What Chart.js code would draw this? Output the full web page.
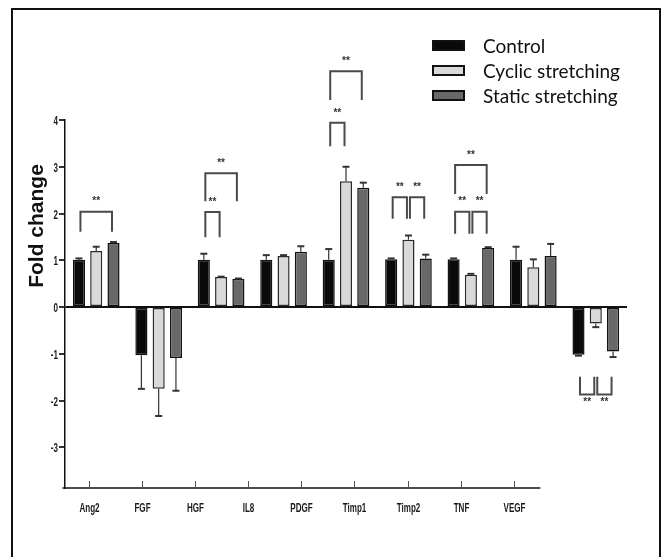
<!DOCTYPE html>
<html>
<head>
<meta charset="utf-8">
<script src="https://cdn.jsdelivr.net/npm/chart.js@4.4.1/dist/chart.umd.min.js"></script>
<style>
  html, body { margin: 0; padding: 0; background: #fff; overflow: hidden; }
  #wrap { position: relative; width: 666px; height: 557px; }
  #chart { position: absolute; left: 0; top: 0; }
  #frame { position: absolute; left: 11px; top: 8px; width: 646px; height: 600px; border: 2.5px solid #111; pointer-events: none; }
  #legend { position: absolute; left: 432px; top: 33px; font-family: Lato, 'Open Sans', sans-serif; font-size: 19px; color: #111; }
  .row { display: flex; align-items: center; height: 25px; }
  .box { width: 33px; height: 11px; box-sizing: border-box; border: 2px solid #111; margin-right: 18px; }
</style>
</head>
<body>
<div id="wrap">
  <canvas id="chart" width="666" height="557"></canvas>
  <div id="legend"></div>
  <div id="frame"></div>
</div>
<script>
// --- data ---
const categories = ['Ang2', 'FGF', 'HGF', 'IL8', 'PDGF', 'Timp1', 'Timp2', 'TNF', 'VEGF'];
const seriesNames = ['Control', 'Cyclic stretching', 'Static stretching'];
const control = [1.01, -1.03, 1.01, 1.01, 1.01, 1.02, 1.02, 1.01, -1.02];
const cyclic  = [1.20, -1.75, 0.64, 1.09, 2.69, 1.44, 0.69, 0.85, -0.35];
const stat    = [1.37, -1.09, 0.60, 1.18, 2.55, 1.04, 1.26, 1.09, -0.95];
const errControl = [0.03, 0.72, 0.13, 0.10, 0.23, 0.02, 0.02, 0.28, 0.02];
const errCyclic  = [0.09, 0.58, 0.01, 0.02, 0.31, 0.09, 0.02, 0.17, 0.08];
const errStatic  = [0.02, 0.70, 0.01, 0.12, 0.11, 0.08, 0.02, 0.26, 0.12];
const yTicks = [-3, -2, -1, 0, 1, 2, 3, 4];

// significance brackets: category, from series, to series, bar level, leg end
const brackets = [
  { cat: 0, a: 0, b: 2, top: 2.04, leg: 1.61 },
  { cat: 2, a: 0, b: 1, top: 2.03, leg: 1.49 },
  { cat: 2, a: 0, b: 2, top: 2.86, leg: 2.26 },
  { cat: 4, a: 0, b: 1, top: 3.94, leg: 3.44 },
  { cat: 4, a: 0, b: 2, top: 5.04, leg: 4.43 },
  { cat: 5, a: 0, b: 1, top: 2.35, leg: 1.89 },
  { cat: 5, a: 1, b: 2, top: 2.35, leg: 1.89 },
  { cat: 6, a: 0, b: 1, top: 2.04, leg: 1.57 },
  { cat: 6, a: 1, b: 2, top: 2.04, leg: 1.57 },
  { cat: 6, a: 0, b: 2, top: 3.04, leg: 2.42 },
  { cat: 8, a: 0, b: 1, top: -1.87, leg: -1.49 },
  { cat: 8, a: 1, b: 2, top: -1.87, leg: -1.49 }
];

const fills = ['#0a0a0a', '#d9d9d9', '#686868'];
const errors = [errControl, errCyclic, errStatic];

// legend (html)
const legendEl = document.getElementById('legend');
seriesNames.forEach((name, i) => {
  const row = document.createElement('div');
  row.className = 'row';
  row.innerHTML = `<span class="box" style="background:${fills[i]}"></span><span>${name}</span>`;
  legendEl.appendChild(row);
});

// narrow tick text (the original uses a condensed face)
function narrowText(ctx, text, x, y, align) {
  ctx.save();
  ctx.translate(x, y);
  ctx.scale(0.62, 1);
  ctx.textAlign = align;
  ctx.fillText(text, 0, 0);
  ctx.restore();
}

const extras = {
  id: 'extras',
  afterDatasetsDraw(chart) {
    const { ctx, scales: { y, x2 }, chartArea } = chart;
    ctx.save();

    // error bars (one-sided)
    chart.data.datasets.forEach((ds, di) => {
      const meta = chart.getDatasetMeta(di);
      meta.data.forEach((bar, i) => {
        const v = ds.data[i];
        const yEnd = y.getPixelForValue(v + Math.sign(v) * errors[di][i]);
        ctx.strokeStyle = '#333';
        ctx.lineWidth = 1.2;
        ctx.beginPath(); ctx.moveTo(bar.x, bar.y); ctx.lineTo(bar.x, yEnd); ctx.stroke();
        ctx.lineWidth = 2;
        ctx.beginPath(); ctx.moveTo(bar.x - 3.5, yEnd); ctx.lineTo(bar.x + 3.5, yEnd); ctx.stroke();
      });
    });

    // brackets + stars
    ctx.strokeStyle = '#4a4a4a';
    ctx.lineWidth = 2;
    ctx.fillStyle = '#333';
    ctx.font = "bold 10px 'Liberation Sans', sans-serif";
    ctx.textAlign = 'center';
    ctx.textBaseline = 'middle';
    brackets.forEach(br => {
      const xa = chart.getDatasetMeta(br.a).data[br.cat].x + 1.5;
      const xb = chart.getDatasetMeta(br.b).data[br.cat].x - 1.5;
      const yt = y.getPixelForValue(br.top);
      const yl = y.getPixelForValue(br.leg);
      ctx.beginPath();
      ctx.moveTo(xa, yl); ctx.lineTo(xa, yt); ctx.lineTo(xb, yt); ctx.lineTo(xb, yl);
      ctx.stroke();
      const up = br.top > br.leg;
      ctx.fillText('**', (xa + xb) / 2, yt + (up ? -10 : 8));
    });

    // bottom category axis line with inward ticks
    const yb = chartArea.bottom;
    ctx.strokeStyle = '#111';
    ctx.lineWidth = 1.5;
    ctx.beginPath();
    ctx.moveTo(x2.getPixelForValue(-0.5), yb);
    ctx.lineTo(x2.getPixelForValue(categories.length - 0.5), yb);
    ctx.stroke();
    ctx.strokeStyle = '#555';
    ctx.lineWidth = 1;
    ctx.fillStyle = '#1a1a1a';
    ctx.font = "bold 13px 'Liberation Sans', Arial, sans-serif";
    ctx.textBaseline = 'alphabetic';
    categories.forEach((c, i) => {
      const px = Math.round(x2.getPixelForValue(i)) + 0.5;
      ctx.beginPath(); ctx.moveTo(px, yb); ctx.lineTo(px, yb - 7); ctx.stroke();
      narrowText(ctx, c, px, yb + 24, 'center');
    });

    // y tick labels
    yTicks.forEach(v => {
      narrowText(ctx, String(v), chartArea.left - 7, y.getPixelForValue(v) + 5, 'right');
    });

    // y title
    ctx.translate(37, 226);
    ctx.rotate(-Math.PI / 2);
    ctx.fillStyle = '#111';
    ctx.textAlign = 'center';
    ctx.textBaseline = 'middle';
    ctx.font = "bold 21px 'Liberation Sans', Arial, sans-serif";
    ctx.fillText('Fold change', 0, 0);
    ctx.restore();
  }
};

new Chart(document.getElementById('chart'), {
  type: 'bar',
  data: {
    labels: categories,
    datasets: [control, cyclic, stat].map((d, i) => ({
      label: seriesNames[i],
      data: d,
      backgroundColor: fills[i],
      borderColor: i === 1 ? '#2a2a2a' : '#111',
      borderWidth: 1.5,
      borderSkipped: false,
      categoryPercentage: 0.83,
      barPercentage: 0.7
    }))
  },
  options: {
    responsive: false,
    animation: false,
    devicePixelRatio: 1,
    layout: { padding: { top: 120, right: 39, left: 0, bottom: 69 } },
    plugins: { legend: { display: false }, tooltip: { enabled: false } },
    scales: {
      x: { display: false },
      // label axis: offset from the bar groups as in the original figure
      x2: {
        type: 'linear',
        position: 'bottom',
        display: false,
        offset: false,
        min: -0.452,
        max: 10.132
      },
      y: {
        min: -3.87,
        max: 4,
        afterBuildTicks: s => { s.ticks = yTicks.map(v => ({ value: v })); },
        afterFit: s => { s.width = 65; },
        border: { display: true, color: '#111', width: 1.5 },
        grid: {
          color: c => (c.tick && c.tick.value === 0 ? '#111' : 'rgba(0,0,0,0)'),
          lineWidth: 2,
          tickColor: '#333',
          tickLength: 6,
          drawOnChartArea: true
        },
        ticks: { display: false }
      }
    }
  },
  plugins: [extras]
});
</script>
</body>
</html>
